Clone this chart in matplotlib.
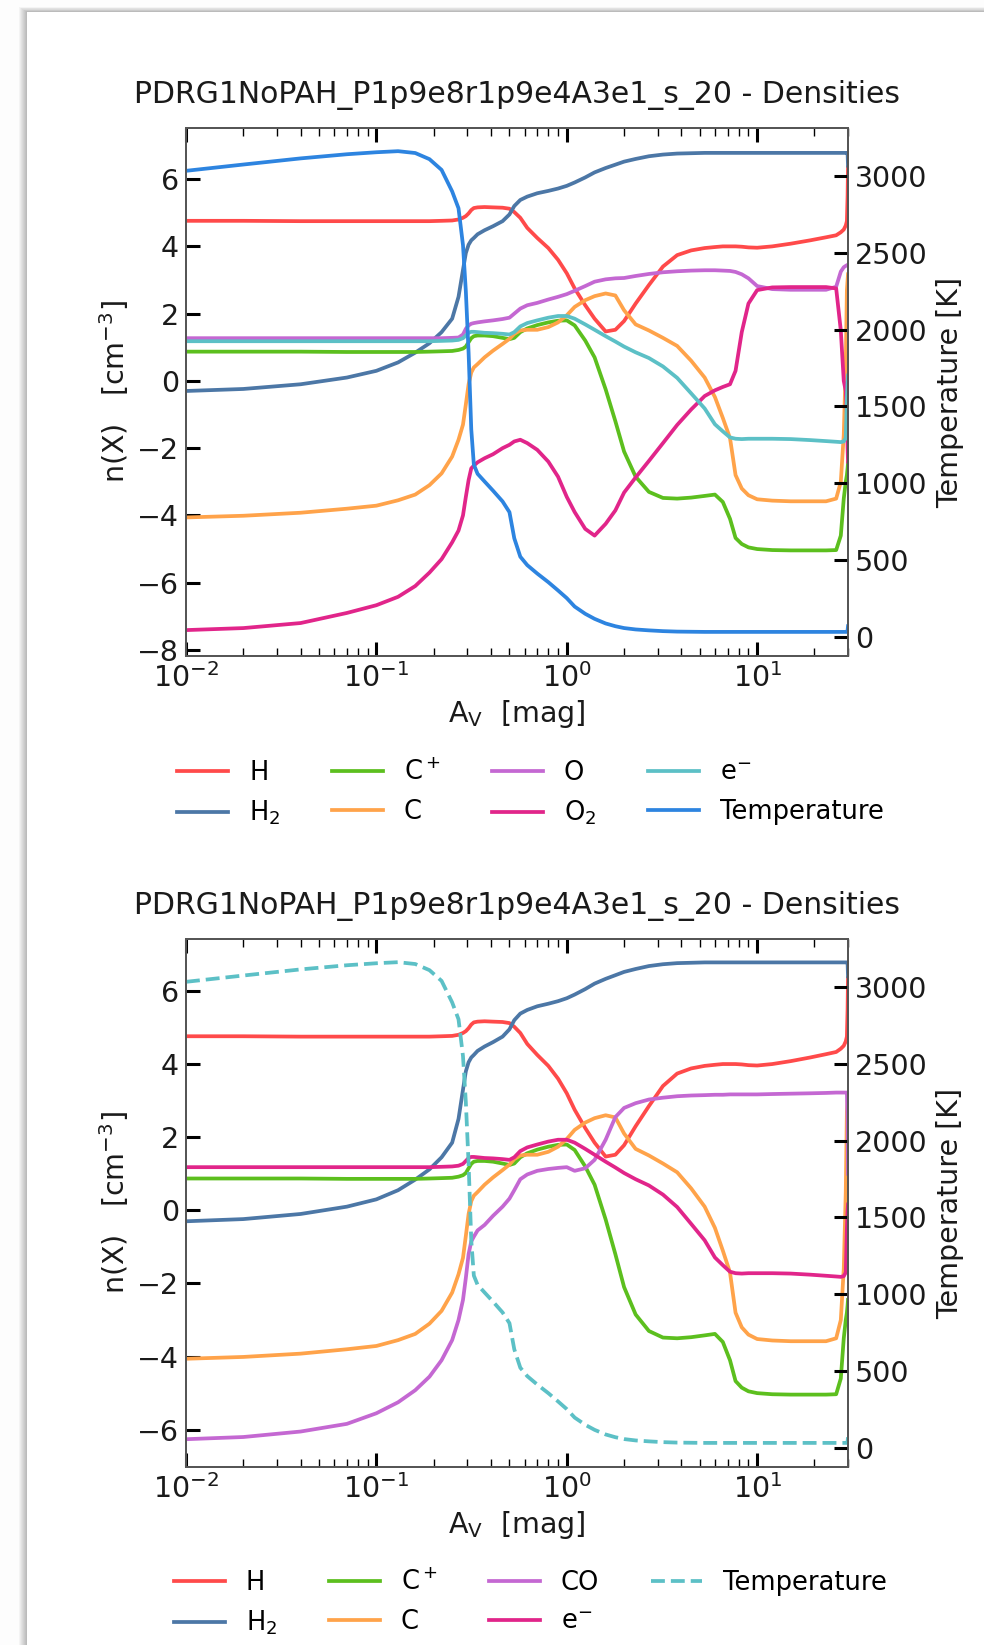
import numpy as np
import matplotlib
matplotlib.use("Agg")
import matplotlib.pyplot as plt
from matplotlib.patches import Rectangle

# ---------------- data ----------------
title = "PDRG1NoPAH_P1p9e8r1p9e4A3e1_s_20 - Densities"

av = [0.01, 0.02, 0.04, 0.07, 0.1, 0.13, 0.16, 0.19, 0.22, 0.25,
      0.27, 0.285, 0.295, 0.305, 0.315, 0.325, 0.34, 0.37, 0.41, 0.46,
      0.5, 0.53, 0.57, 0.62, 0.7, 0.8, 0.9, 1.0, 1.1, 1.25,
      1.4, 1.6, 1.8, 2.0, 2.3, 2.7, 3.2, 3.8, 4.5, 5.3,
      6.0, 6.6, 7.2, 7.7, 8.3, 9.0, 10.0, 12.0, 15.0, 19.0,
      23.0, 26.0, 27.5, 28.5, 29.2, 29.6, 29.85, 30.0]

temperature = [3034, 3075, 3115, 3142, 3155, 3162, 3150, 3110, 3040, 2900,
               2790, 2550, 2250, 1850, 1350, 1120, 1060, 1010, 950, 880,
               810, 640, 520, 465, 410, 354, 300, 250, 195, 148,
               115, 85, 67, 55, 46, 40, 35, 32, 31, 30,
               30, 30, 30, 30, 30, 30, 30, 30, 30, 30,
               30, 30, 30, 30, 30, 30, 40, 67]

n_H = [4.76, 4.76, 4.75, 4.75, 4.75, 4.75, 4.75, 4.75, 4.76, 4.77,
       4.80, 4.85, 4.90, 4.98, 5.08, 5.14, 5.16, 5.17, 5.16, 5.15,
       5.12, 5.02, 4.85, 4.55, 4.25, 3.95, 3.6, 3.2, 2.75, 2.25,
       1.85, 1.47, 1.52, 1.78, 2.3, 2.85, 3.4, 3.74, 3.88, 3.95,
       3.98, 4.0, 4.0, 4.0, 3.99, 3.97, 3.96, 4.0, 4.08, 4.18,
       4.27, 4.33, 4.42, 4.5, 4.62, 4.75, 5.5, 6.35]

n_H2 = [-0.30, -0.24, -0.10, 0.10, 0.30, 0.55, 0.84, 1.12, 1.45, 1.85,
        2.5, 3.3, 3.8, 4.05, 4.18, 4.25, 4.36, 4.48, 4.6, 4.75,
        4.95, 5.2, 5.38, 5.48, 5.58, 5.65, 5.72, 5.8, 5.9, 6.05,
        6.2, 6.33, 6.43, 6.52, 6.6, 6.68, 6.73, 6.76, 6.77, 6.78,
        6.78, 6.78, 6.78, 6.78, 6.78, 6.78, 6.78, 6.78, 6.78, 6.78,
        6.78, 6.78, 6.78, 6.78, 6.78, 6.78, 6.78, 6.4]

n_Cp = [0.87, 0.87, 0.87, 0.86, 0.86, 0.86, 0.86, 0.87, 0.88, 0.89,
        0.92, 0.96, 1.02, 1.15, 1.27, 1.33, 1.35, 1.35, 1.33, 1.28,
        1.24, 1.28, 1.45, 1.56, 1.66, 1.74, 1.79, 1.8, 1.65, 1.2,
        0.7, -0.25, -1.2, -2.1, -2.85, -3.3, -3.48, -3.5, -3.47, -3.42,
        -3.38, -3.6, -4.1, -4.67, -4.85, -4.95, -5.0, -5.03, -5.04, -5.04,
        -5.04, -5.03, -4.6, -3.5, -3.0, -2.8, -2.6, -2.45]

n_C = [-4.06, -4.01, -3.92, -3.8, -3.71, -3.55, -3.38, -3.1, -2.75, -2.25,
       -1.75, -1.3, -0.7, -0.1, 0.25, 0.4, 0.5, 0.7, 0.9, 1.1,
       1.25, 1.4, 1.5, 1.52, 1.52, 1.6, 1.74, 1.95, 2.2, 2.4,
       2.52, 2.6, 2.54, 2.1, 1.68, 1.5, 1.28, 1.04, 0.6, 0.1,
       -0.48, -1.1, -1.7, -2.8, -3.2, -3.4, -3.52, -3.56, -3.58, -3.58,
       -3.58, -3.5, -3.0, -1.6, 0.5, 2.7, 3.0, 3.17]

n_O = [1.27, 1.27, 1.27, 1.27, 1.27, 1.27, 1.27, 1.27, 1.27, 1.28,
       1.29, 1.38, 1.55, 1.65, 1.7, 1.72, 1.74, 1.77, 1.8, 1.84,
       1.88, 2.0, 2.15, 2.25, 2.32, 2.42, 2.5, 2.58, 2.68, 2.82,
       2.95, 3.02, 3.05, 3.06, 3.12, 3.18, 3.23, 3.26, 3.28, 3.29,
       3.29, 3.28, 3.27, 3.24, 3.17, 3.05, 2.82, 2.73, 2.71, 2.71,
       2.71, 2.8, 3.25, 3.38, 3.42, 3.44, 3.45, 3.45]

n_O2 = [-7.41, -7.35, -7.2, -6.9, -6.67, -6.42, -6.1, -5.7, -5.3, -4.8,
        -4.45, -4.0, -3.45, -2.95, -2.6, -2.52, -2.42, -2.3, -2.18, -2.0,
        -1.9, -1.8, -1.75, -1.85, -2.05, -2.4, -2.85, -3.45, -3.9, -4.4,
        -4.6, -4.25, -3.85, -3.32, -2.87, -2.38, -1.85, -1.31, -0.85, -0.45,
        -0.28, -0.18, -0.1, 0.3, 1.45, 2.3, 2.7, 2.78, 2.79, 2.79,
        2.79, 2.75, 1.5, 0.0, -0.3, -1.0, -2.0, -2.4]

n_e = [1.18, 1.18, 1.18, 1.18, 1.18, 1.18, 1.18, 1.18, 1.19, 1.2,
       1.22, 1.27, 1.35, 1.43, 1.46, 1.46, 1.45, 1.43, 1.42, 1.4,
       1.38, 1.45, 1.62, 1.72, 1.8, 1.88, 1.93, 1.93, 1.85, 1.68,
       1.52, 1.33, 1.17, 1.02, 0.85, 0.68, 0.43, 0.09, -0.37, -0.82,
       -1.29, -1.5, -1.68, -1.72, -1.73, -1.72, -1.72, -1.72, -1.73, -1.76,
       -1.79, -1.81, -1.82, -1.8, -1.7, -0.5, 0.0, 0.16]

n_CO = [-6.26, -6.2, -6.05, -5.84, -5.55, -5.25, -4.92, -4.55, -4.1, -3.55,
        -3.0, -2.45, -1.85, -1.2, -0.85, -0.72, -0.55, -0.4, -0.15, 0.1,
        0.32, 0.55, 0.85, 0.98, 1.08, 1.13, 1.16, 1.18, 1.08, 1.15,
        1.38, 1.93, 2.55, 2.8, 2.93, 3.03, 3.08, 3.12, 3.14, 3.15,
        3.16, 3.16, 3.17, 3.17, 3.17, 3.17, 3.17, 3.18, 3.19, 3.2,
        3.21, 3.22, 3.22, 3.22, 3.22, 3.22, 2.5, 1.0]

top_species = [("H", n_H), ("H$_2$", n_H2), ("C$^+$", n_Cp), ("C", n_C),
               ("O", n_O), ("O$_2$", n_O2), ("e$^{-}$", n_e)]
bottom_species = [("H", n_H), ("H$_2$", n_H2), ("C$^+$", n_Cp), ("C", n_C),
                  ("CO", n_CO), ("e$^{-}$", n_e)]

palette = ["#ff4a4a", "#4c77a6", "#5cbf1e", "#ffa34a",
           "#c468d2", "#e1258a", "#5cc0c6", "#2d84e0"]

# ---------------- figure ----------------
W, H = 984, 1645
fig = plt.figure(figsize=(W / 100, H / 100), dpi=100)
fig.patch.set_facecolor("#fdfdfd")


def px_rect(x0, y0, x1, y1, **kw):
    r = Rectangle((x0 / W, 1 - y1 / H), (x1 - x0) / W, (y1 - y0) / H,
                  transform=fig.transFigure, figure=fig, zorder=-100, **kw)
    fig.patches.append(r)


# card with soft shadow
for i in range(8, 0, -1):
    px_rect(27 - i, 12 - i * 0.6, W + 20, H + 20, color="black",
            alpha=0.035, lw=0)
px_rect(27, 12, W + 20, H + 20, color="white", lw=0)

FS_TICK = 20.5
FS_LABEL = 20.5
FS_TITLE = 21.5
FS_LEG = 18.5
LW = 2.7


def style(ax, axt):
    ax.set_xscale("log")
    ax.set_xlim(0.01, 30)
    ax.tick_params(which="both", direction="in", top=True, right=False,
                   colors="black", labelcolor="#1a1a1a")
    ax.tick_params(which="major", length=10, width=2.2, labelsize=FS_TICK,
                   pad=5)
    ax.tick_params(which="minor", length=6, width=1.0)
    axt.tick_params(which="major", direction="in", length=10, width=2.2,
                    labelsize=FS_TICK, pad=5, colors="black",
                    labelcolor="#1a1a1a")
    for a in (ax, axt):
        for s in a.spines.values():
            s.set_color("#555555")
            s.set_linewidth(1.3)
    ax.set_xlabel(r"A$_{\rm V}$  [mag]", fontsize=FS_LABEL, color="#1a1a1a")
    ax.set_ylabel(r"n(X)   [cm$^{-3}$]", fontsize=FS_LABEL, color="#1a1a1a")
    axt.set_ylabel("Temperature [K]", fontsize=FS_LABEL, color="#1a1a1a",
                   labelpad=6)
    ax.set_title(title, fontsize=FS_TITLE, pad=18, color="#1a1a1a")


# ----- top panel -----
ax1 = fig.add_axes([186 / W, 1 - 656 / H, 662 / W, 528 / H])
ax1t = ax1.twinx()
handles = []
for i, (lab, vals) in enumerate(top_species):
    h, = ax1.plot(av, vals, color=palette[i], lw=LW, label=lab)
    handles.append(h)
h, = ax1t.plot(av, temperature, color=palette[7], lw=LW, label="Temperature")
handles.append(h)
ax1.set_ylim(-8.18, 7.52)
ax1t.set_ylim(-127, 3313)
style(ax1, ax1t)
ax1.legend(handles=handles, loc="center", bbox_to_anchor=(0.52, -0.26),
           ncol=4, frameon=False, fontsize=FS_LEG)

# ----- bottom panel -----
ax2 = fig.add_axes([186 / W, 1 - 1467 / H, 662 / W, 528 / H])
ax2t = ax2.twinx()
handles = []
bottom_colors = palette[:5] + [palette[5]]
for i, (lab, vals) in enumerate(bottom_species):
    h, = ax2.plot(av, vals, color=bottom_colors[i], lw=LW, label=lab)
    handles.append(h)
h, = ax2t.plot(av, temperature, color=palette[6], lw=LW, ls="--",
               label="Temperature")
handles.append(h)
ax2.set_ylim(-7.02, 7.42)
ax2t.set_ylim(-127, 3313)
style(ax2, ax2t)
ax2.legend(handles=handles, loc="center", bbox_to_anchor=(0.52, -0.258),
           ncol=4, frameon=False, fontsize=FS_LEG)

fig.savefig("out.png", dpi=100, facecolor=fig.get_facecolor())
